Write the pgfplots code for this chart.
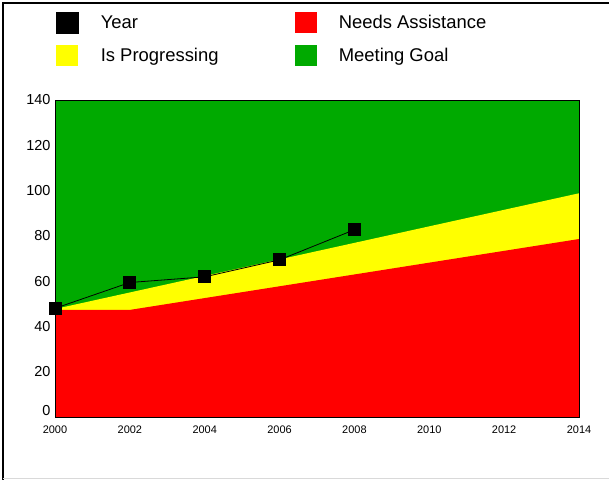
\documentclass[border=0pt]{standalone}
\usepackage{fontspec}
\setmainfont{Liberation Sans}
\usepackage{pgfplots}
\pgfplotsset{compat=1.18}

\definecolor{goalgreen}{RGB}{0,170,0}
\definecolor{progyellow}{RGB}{255,255,0}
\definecolor{needred}{RGB}{255,0,0}

\begin{document}
\begin{tikzpicture}[x=1bp,y=1bp]
  % page size and outer frame
  \path[use as bounding box] (0,0) rectangle (609,480);
  \draw[black, line width=2bp] (3,0) -- (3,477) -- (609,477);
  \draw[black!15, line width=1bp] (3,1.5) -- (609,1.5);

  \begin{axis}[
      at={(55bp,63bp)}, anchor=south west,
      scale only axis,
      width=524bp, height=317bp,
      xmin=2000, xmax=2014,
      ymin=0, ymax=140,
      xtick={2000,2002,...,2014},
      ytick={20,40,...,140},
      extra y ticks={0},
      extra y tick style={yticklabel style={yshift=6bp}},
      major tick length=0pt,
      /pgf/number format/assume math mode=true,
      /pgf/number format/1000 sep={},
      xticklabel style={font=\fontsize{11}{13}\selectfont, yshift=-5bp},
      yticklabel style={font=\fontsize{14.5}{16}\selectfont, xshift=-1bp},
      axis line style={black, line width=0.8bp},
      axis on top,
      reverse legend,
      legend columns=2,
      legend style={
          at={(0,1)}, anchor=north west,
          xshift=1bp, yshift=88bp,
          draw=none, fill=none,
          inner sep=0pt, outer sep=0pt,
          row sep=11bp,
          nodes={inner sep=0pt, font=\fontsize{18.5}{21}\selectfont},
      },
      legend cell align=left,
    ]

    \addplot[fill=goalgreen, draw=none,
        legend image code/.code={\fill[goalgreen] (0,-10.5bp) rectangle (22bp,10.5bp); \path (44bp,0);}]
      coordinates {(2000,140) (2014,140)} \closedcycle;
    \addlegendentry{Meeting Goal}

    \addplot[fill=progyellow, draw=none,
        legend image code/.code={\fill[progyellow] (0,-10.5bp) rectangle (22bp,10.5bp); \path (44bp,0);}]
      coordinates {(2000,47.7) (2014,98.8)} \closedcycle;
    \addlegendentry{\makebox[194bp][l]{Is Progressing}}

    \addplot[fill=needred, draw=none,
        legend image code/.code={\fill[needred] (0,-10.5bp) rectangle (22bp,10.5bp); \path (44bp,0);}]
      coordinates {(2000,47.3) (2002,47.3) (2014,78.6)} \closedcycle;
    \addlegendentry{Needs Assistance}

    \addplot[black, line width=0.8bp, mark=square*, mark size=6bp,
        mark options={solid, fill=black},
        legend image code/.code={\fill[black] (0,-10.5bp) rectangle (22bp,10.5bp); \path (44bp,0);}]
      coordinates {(2000,48.0) (2002,59.4) (2004,61.9) (2006,69.4) (2008,82.7)};
    \addlegendentry{\makebox[194bp][l]{Year}}

  \end{axis}
\end{tikzpicture}
\end{document}
